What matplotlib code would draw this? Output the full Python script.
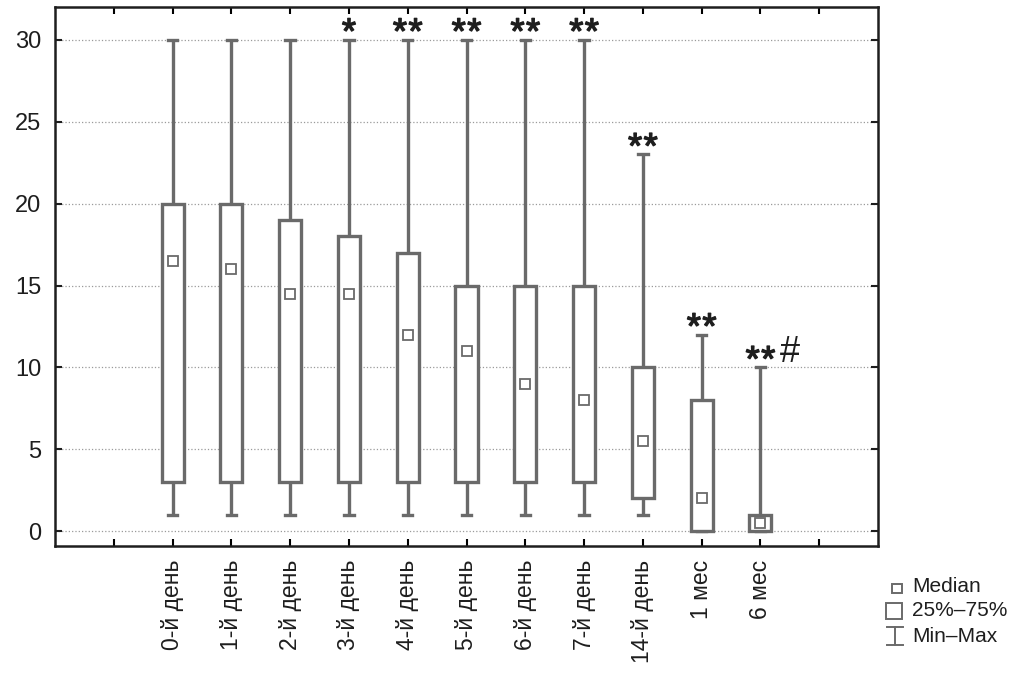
import matplotlib
matplotlib.use("Agg")
import matplotlib.pyplot as plt
from matplotlib.patches import Rectangle
import matplotlib.patheffects as pe

plt.rcParams['font.family'] = ['Liberation Sans', 'DejaVu Sans']

categories = ["0-й день", "1-й день", "2-й день", "3-й день", "4-й день", "5-й день",
              "6-й день", "7-й день", "14-й день", "1 мес", "6 мес"]
mins =    [1, 1, 1, 1, 1, 1, 1, 1, 1, 0, 0]
q1 =      [3, 3, 3, 3, 3, 3, 3, 3, 2, 0, 0]
medians = [16.5, 16, 14.5, 14.5, 12, 11, 9, 8, 5.5, 2, 0.5]
q3 =      [20, 20, 19, 18, 17, 15, 15, 15, 10, 8, 1]
maxs =    [30, 30, 30, 30, 30, 30, 30, 30, 23, 12, 10]
n_stars = [0, 0, 0, 1, 2, 2, 2, 2, 2, 2, 2]
hashes =  ["", "", "", "", "", "", "", "", "", "", "#"]

edge = "#6a6a6a"
txt = "#1e1e1e"

fig = plt.figure(figsize=(10.24, 6.77), dpi=100)
ax = fig.add_axes([55/1024, 1-546/677, (878-55)/1024, (546-7)/677])

positions = list(range(1, len(categories) + 1))
bw = 0.375
cw = 0.16
thick = [pe.withStroke(linewidth=1.0, foreground=txt)]
for x, lo, a, m, b, hi, ns, hs in zip(positions, mins, q1, medians, q3, maxs, n_stars, hashes):
    ax.plot([x, x], [b, hi], color=edge, lw=2.4, zorder=3, solid_capstyle='butt')
    ax.plot([x, x], [lo, a], color=edge, lw=2.4, zorder=3, solid_capstyle='butt')
    ax.plot([x - cw/2, x + cw/2], [hi, hi], color=edge, lw=2.4, zorder=3)
    ax.plot([x - cw/2, x + cw/2], [lo, lo], color=edge, lw=2.4, zorder=3)
    ax.add_patch(Rectangle((x - bw/2, a), bw, b - a, facecolor="white",
                           edgecolor=edge, lw=2.4, zorder=4))
    ax.plot([x], [m], marker='s', markersize=7, markerfacecolor='white',
            markeredgecolor=edge, markeredgewidth=1.3, zorder=5, linestyle='none')
    offs = [0] if ns == 1 else ([-5.6, 5.6] if ns == 2 else [])
    for dx in offs:
        ax.annotate("*", (x, hi), xytext=(dx, -2.5), textcoords='offset points',
                    ha='center', va='baseline', fontsize=26, color=txt,
                    path_effects=thick, annotation_clip=False)
    if hs:
        ax.annotate(hs, (x, hi), xytext=(21.5, 3.6), textcoords='offset points',
                    ha='center', va='baseline', fontsize=26, color=txt,
                    annotation_clip=False)

ax.set_xlim(-1, 13)
ax.set_ylim(-0.9, 32)
ax.set_yticks([0, 5, 10, 15, 20, 25, 30])
ax.set_xticks(range(0, 13))
ax.set_xticklabels([""] + categories + [""], rotation=90, fontsize=16.5, color=txt)
ax.tick_params(axis='y', labelsize=17, colors=txt, direction='in', length=5, width=1.5,
               right=True, pad=10)
ax.tick_params(axis='x', direction='in', length=5, width=1.5, top=True, pad=10)
ax.grid(axis='y', linestyle=':', color='#9a9a9a', lw=0.9)
ax.set_axisbelow(True)
for s in ax.spines.values():
    s.set_linewidth(1.8)
    s.set_color(txt)

# legend drawn manually
lax = fig.add_axes([0, 0, 1, 1], facecolor='none')
lax.set_xlim(0, 1024)
lax.set_ylim(677, 0)
lax.axis('off')
lax.add_patch(Rectangle((892, 584), 10, 9, facecolor='white', edgecolor=edge, lw=1.4))
lax.text(912, 587, "Median", fontsize=15, va='center', color=txt)
lax.add_patch(Rectangle((886, 603), 16, 16, facecolor='white', edgecolor=edge, lw=1.4))
lax.text(912, 611, "25%–75%", fontsize=15, va='center', color=txt)
lax.plot([887, 903], [627, 627], color=edge, lw=1.4)
lax.plot([887, 903], [645, 645], color=edge, lw=1.4)
lax.plot([895, 895], [627, 645], color=edge, lw=1.4)
lax.text(912, 636, "Min–Max", fontsize=15, va='center', color=txt)

fig.savefig("out.png", dpi=100)
